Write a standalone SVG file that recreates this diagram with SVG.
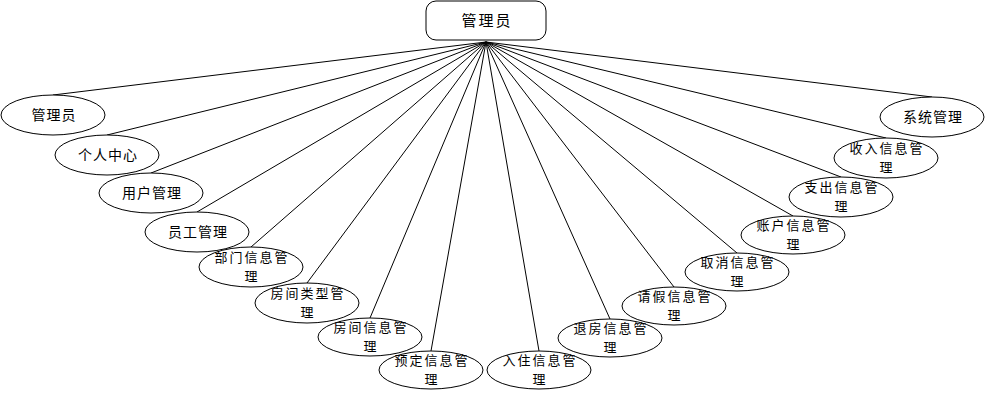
<svg xmlns="http://www.w3.org/2000/svg" width="996" height="410" viewBox="0 0 996 410">
<style>
.bg{fill:#fff}
.e{fill:#fff;stroke:#000;stroke-width:1}
.r{fill:#fff;stroke:#000;stroke-width:1}
.c line{stroke:#000;stroke-width:1}
text{font-family:"Noto Sans CJK SC","Noto Sans",sans-serif;font-size:14px;letter-spacing:1px;fill:#000;text-anchor:middle}
.t{font-size:15px;letter-spacing:2px}
.m{font-size:13px;letter-spacing:2px}
</style>
<rect class="bg" x="0" y="0" width="996" height="410"/>
<g id="connectors" class="c">
<line x1="486" y1="42" x2="53" y2="95"/>
<line x1="486" y1="42" x2="107" y2="135"/>
<line x1="486" y1="42" x2="151" y2="173"/>
<line x1="486" y1="42" x2="197" y2="212"/>
<line x1="486" y1="42" x2="251" y2="247"/>
<line x1="486" y1="42" x2="307" y2="283"/>
<line x1="486" y1="42" x2="370" y2="318"/>
<line x1="486" y1="42" x2="431" y2="351"/>
<line x1="486" y1="42" x2="539" y2="351"/>
<line x1="486" y1="42" x2="610" y2="319"/>
<line x1="486" y1="42" x2="674" y2="287"/>
<line x1="486" y1="42" x2="737" y2="253"/>
<line x1="486" y1="42" x2="793" y2="216"/>
<line x1="486" y1="42" x2="841" y2="177"/>
<line x1="486" y1="42" x2="886" y2="138"/>
<line x1="486" y1="42" x2="932" y2="97"/>
</g>
<g id="root">
<rect class="r" x="426" y="1" width="120" height="39" rx="10" ry="10"/>
<text class="t" x="487" y="26">管理员</text>
</g>
<g id="n1"><ellipse class="e" cx="53" cy="115" rx="52" ry="20"/><text x="54" y="120">管理员</text></g>
<g id="n2"><ellipse class="e" cx="107" cy="155" rx="52" ry="20"/><text x="108" y="160">个人中心</text></g>
<g id="n3"><ellipse class="e" cx="151" cy="193" rx="52" ry="20"/><text x="152" y="198">用户管理</text></g>
<g id="n4"><ellipse class="e" cx="197" cy="232" rx="52" ry="20"/><text x="198" y="237">员工管理</text></g>
<g id="n5"><ellipse class="e" cx="251" cy="267" rx="52" ry="20"/><text class="m" x="252" y="262">部门信息管<tspan x="252" dy="19">理</tspan></text></g>
<g id="n6"><ellipse class="e" cx="307" cy="303" rx="52" ry="20"/><text class="m" x="308" y="298">房间类型管<tspan x="308" dy="19">理</tspan></text></g>
<g id="n7"><ellipse class="e" cx="370" cy="337" rx="52" ry="19"/><text class="m" x="371" y="332">房间信息管<tspan x="371" dy="19">理</tspan></text></g>
<g id="n8"><ellipse class="e" cx="431" cy="370" rx="52" ry="19"/><text class="m" x="432" y="365">预定信息管<tspan x="432" dy="19">理</tspan></text></g>
<g id="n9"><ellipse class="e" cx="539" cy="370" rx="52" ry="19"/><text class="m" x="540" y="365">入住信息管<tspan x="540" dy="19">理</tspan></text></g>
<g id="n10"><ellipse class="e" cx="610" cy="338" rx="52" ry="19"/><text class="m" x="611" y="333">退房信息管<tspan x="611" dy="19">理</tspan></text></g>
<g id="n11"><ellipse class="e" cx="674" cy="306" rx="52" ry="19"/><text class="m" x="675" y="301">请假信息管<tspan x="675" dy="19">理</tspan></text></g>
<g id="n12"><ellipse class="e" cx="737" cy="272" rx="52" ry="19"/><text class="m" x="738" y="267">取消信息管<tspan x="738" dy="19">理</tspan></text></g>
<g id="n13"><ellipse class="e" cx="793" cy="235" rx="52" ry="19"/><text class="m" x="794" y="230">账户信息管<tspan x="794" dy="19">理</tspan></text></g>
<g id="n14"><ellipse class="e" cx="841" cy="197" rx="52" ry="20"/><text class="m" x="842" y="192">支出信息管<tspan x="842" dy="19">理</tspan></text></g>
<g id="n15"><ellipse class="e" cx="886" cy="158" rx="52" ry="20"/><text class="m" x="887" y="153">收入信息管<tspan x="887" dy="19">理</tspan></text></g>
<g id="n16"><ellipse class="e" cx="932" cy="117" rx="52" ry="20"/><text x="933" y="122">系统管理</text></g>
</svg>
